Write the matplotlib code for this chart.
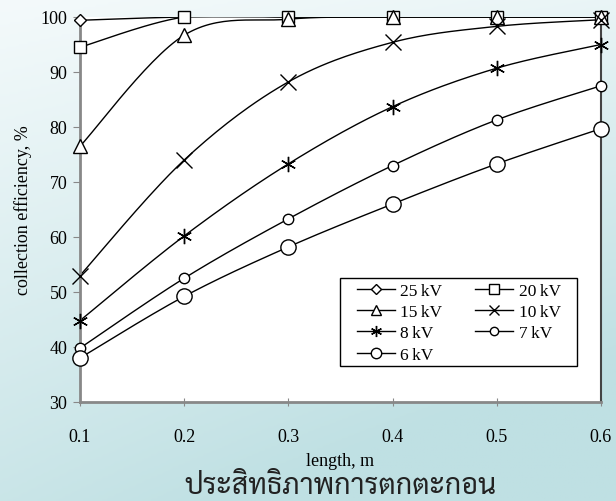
import numpy as np
import matplotlib
matplotlib.use('Agg')
import matplotlib.pyplot as plt
from matplotlib.colors import LinearSegmentedColormap
from matplotlib.patches import Rectangle

lengths = [0.1, 0.2, 0.3, 0.4, 0.5, 0.6]
kv_25 = [99.4, 100, 100, 100, 100, 100]
kv_20 = [94.5, 100, 100, 100, 100, 100]
kv_15 = [76.5, 96.7, 99.6, 100, 100, 100]
kv_10 = [53.0, 74.0, 88.2, 95.4, 98.3, 99.5]
kv_8 = [44.8, 60.2, 73.3, 83.7, 90.7, 95.0]
kv_7 = [39.8, 52.5, 63.3, 73.0, 81.3, 87.5]
kv_6 = [38.0, 49.2, 58.2, 66.0, 73.3, 79.7]

labels = ['25\u2009kV', '20\u2009kV', '15\u2009kV', '10\u2009kV',
          '8\u2009kV', '7\u2009kV', '6\u2009kV']
series = [kv_25, kv_20, kv_15, kv_10, kv_8, kv_7, kv_6]
markers = ['D', 's', '^', 'x', (6, 2, 0), 'o', 'o']
msizes = [6.5, 9, 9.5, 11, 11, 7.5, 11]
leg_sizes = [5.5, 7.5, 7.5, 7.5, 8, 6, 7.5]


def smooth(x, y, n=30):
    # bezier smoothing like a spreadsheet "smoothed line"
    x = np.asarray(x, float)
    y = np.asarray(y, float)
    xs, ys = [], []
    for i in range(len(x) - 1):
        p0 = (x[max(i - 1, 0)], y[max(i - 1, 0)])
        p1 = (x[i], y[i])
        p2 = (x[i + 1], y[i + 1])
        p3 = (x[min(i + 2, len(x) - 1)], y[min(i + 2, len(x) - 1)])
        c1 = (p1[0] + (p2[0] - p0[0]) / 6, p1[1] + (p2[1] - p0[1]) / 6)
        c2 = (p2[0] - (p3[0] - p1[0]) / 6, p2[1] - (p3[1] - p1[1]) / 6)
        t = np.linspace(0, 1, n)
        for k in range(2):
            b = ((1 - t) ** 3 * p1[k] + 3 * (1 - t) ** 2 * t * c1[k]
                 + 3 * (1 - t) * t ** 2 * c2[k] + t ** 3 * p2[k])
            (xs if k == 0 else ys).append(b)
    return np.concatenate(xs), np.concatenate(ys)


plt.rcParams['font.family'] = ['Liberation Serif', 'DejaVu Serif']

fig = plt.figure(figsize=(6.16, 5.02), dpi=100)

# light teal gradient background
bg = fig.add_axes([0, 0, 1, 1], zorder=-10)
yy, xx = np.mgrid[0:1:200j, 0:1:200j]
grad = np.clip(0.8 * yy + 0.3 * xx * yy + 0.2 * xx, 0, 1)
cmap = LinearSegmentedColormap.from_list('bg', ['#f4fafb', '#bfe0e3'])
bg.imshow(grad, cmap=cmap, aspect='auto', extent=[0, 1, 0, 1], origin='upper')
bg.axis('off')

ax = fig.add_axes([80 / 616, 1 - 403 / 502, 521 / 616, 385 / 502])
ax.set_facecolor('white')

handles = []
for lab, ys, m, ms, lms in zip(labels, series, markers, msizes, leg_sizes):
    sx, sy = smooth(lengths, ys)
    ax.plot(sx, sy, color='black', lw=1.0, zorder=2)
    ax.plot(lengths, ys, ls='none', marker=m, ms=ms, mfc='white',
            mec='black', mew=1.0, clip_on=False, zorder=3)
    h, = ax.plot([], [], color='black', lw=1.0, marker=m, ms=lms,
                 mfc='white', mec='black', mew=1.0)
    handles.append(h)

ax.set_xlim(0.1, 0.6)
ax.set_ylim(30, 100)
ax.set_xticks(lengths)
ax.set_yticks(range(30, 101, 10))
ax.tick_params(axis='y', direction='out', length=5, color='#888888',
               labelsize=13, pad=4)
ax.tick_params(axis='x', direction='inout', length=6, color='#888888',
               labelsize=13, pad=16)
for s in ['left', 'bottom']:
    ax.spines[s].set_color('#888888')
    ax.spines[s].set_linewidth(2)
ax.spines['right'].set_color('#444444')
ax.spines['right'].set_linewidth(1.5)
ax.spines['top'].set_visible(False)

ax.set_xlabel('length, m', fontsize=13, labelpad=5)
ax.set_ylabel('collection efficiency, %', fontsize=13, labelpad=6)

# legend box drawn by hand (wider side padding than legend allows)
ax.add_patch(Rectangle((0.499, 0.0935), 0.455, 0.229, transform=ax.transAxes,
                       facecolor='white', edgecolor='black', lw=1.0,
                       zorder=4))
# legend read row by row: two columns
order = [0, 2, 4, 6, 1, 3, 5]
leg = ax.legend([handles[i] for i in order], [labels[i] for i in order],
                ncol=2, loc='center', bbox_to_anchor=(0.727, 0.206),
                fontsize=12.5, frameon=False, handlelength=2.2,
                handletextpad=0.3, columnspacing=1.9, labelspacing=0.3,
                borderpad=0.0, borderaxespad=0)
leg.set_zorder(5)

fig.text(340 / 616, 0.002, 'ประสิทธิภาพการตกตะกอน', ha='center',
         va='bottom', fontsize=20.5, color='#222222',
         family=['Sarabun', 'Noto Serif Thai', 'Noto Sans Thai', 'Charm'])

fig.savefig('out.png', dpi=100)
